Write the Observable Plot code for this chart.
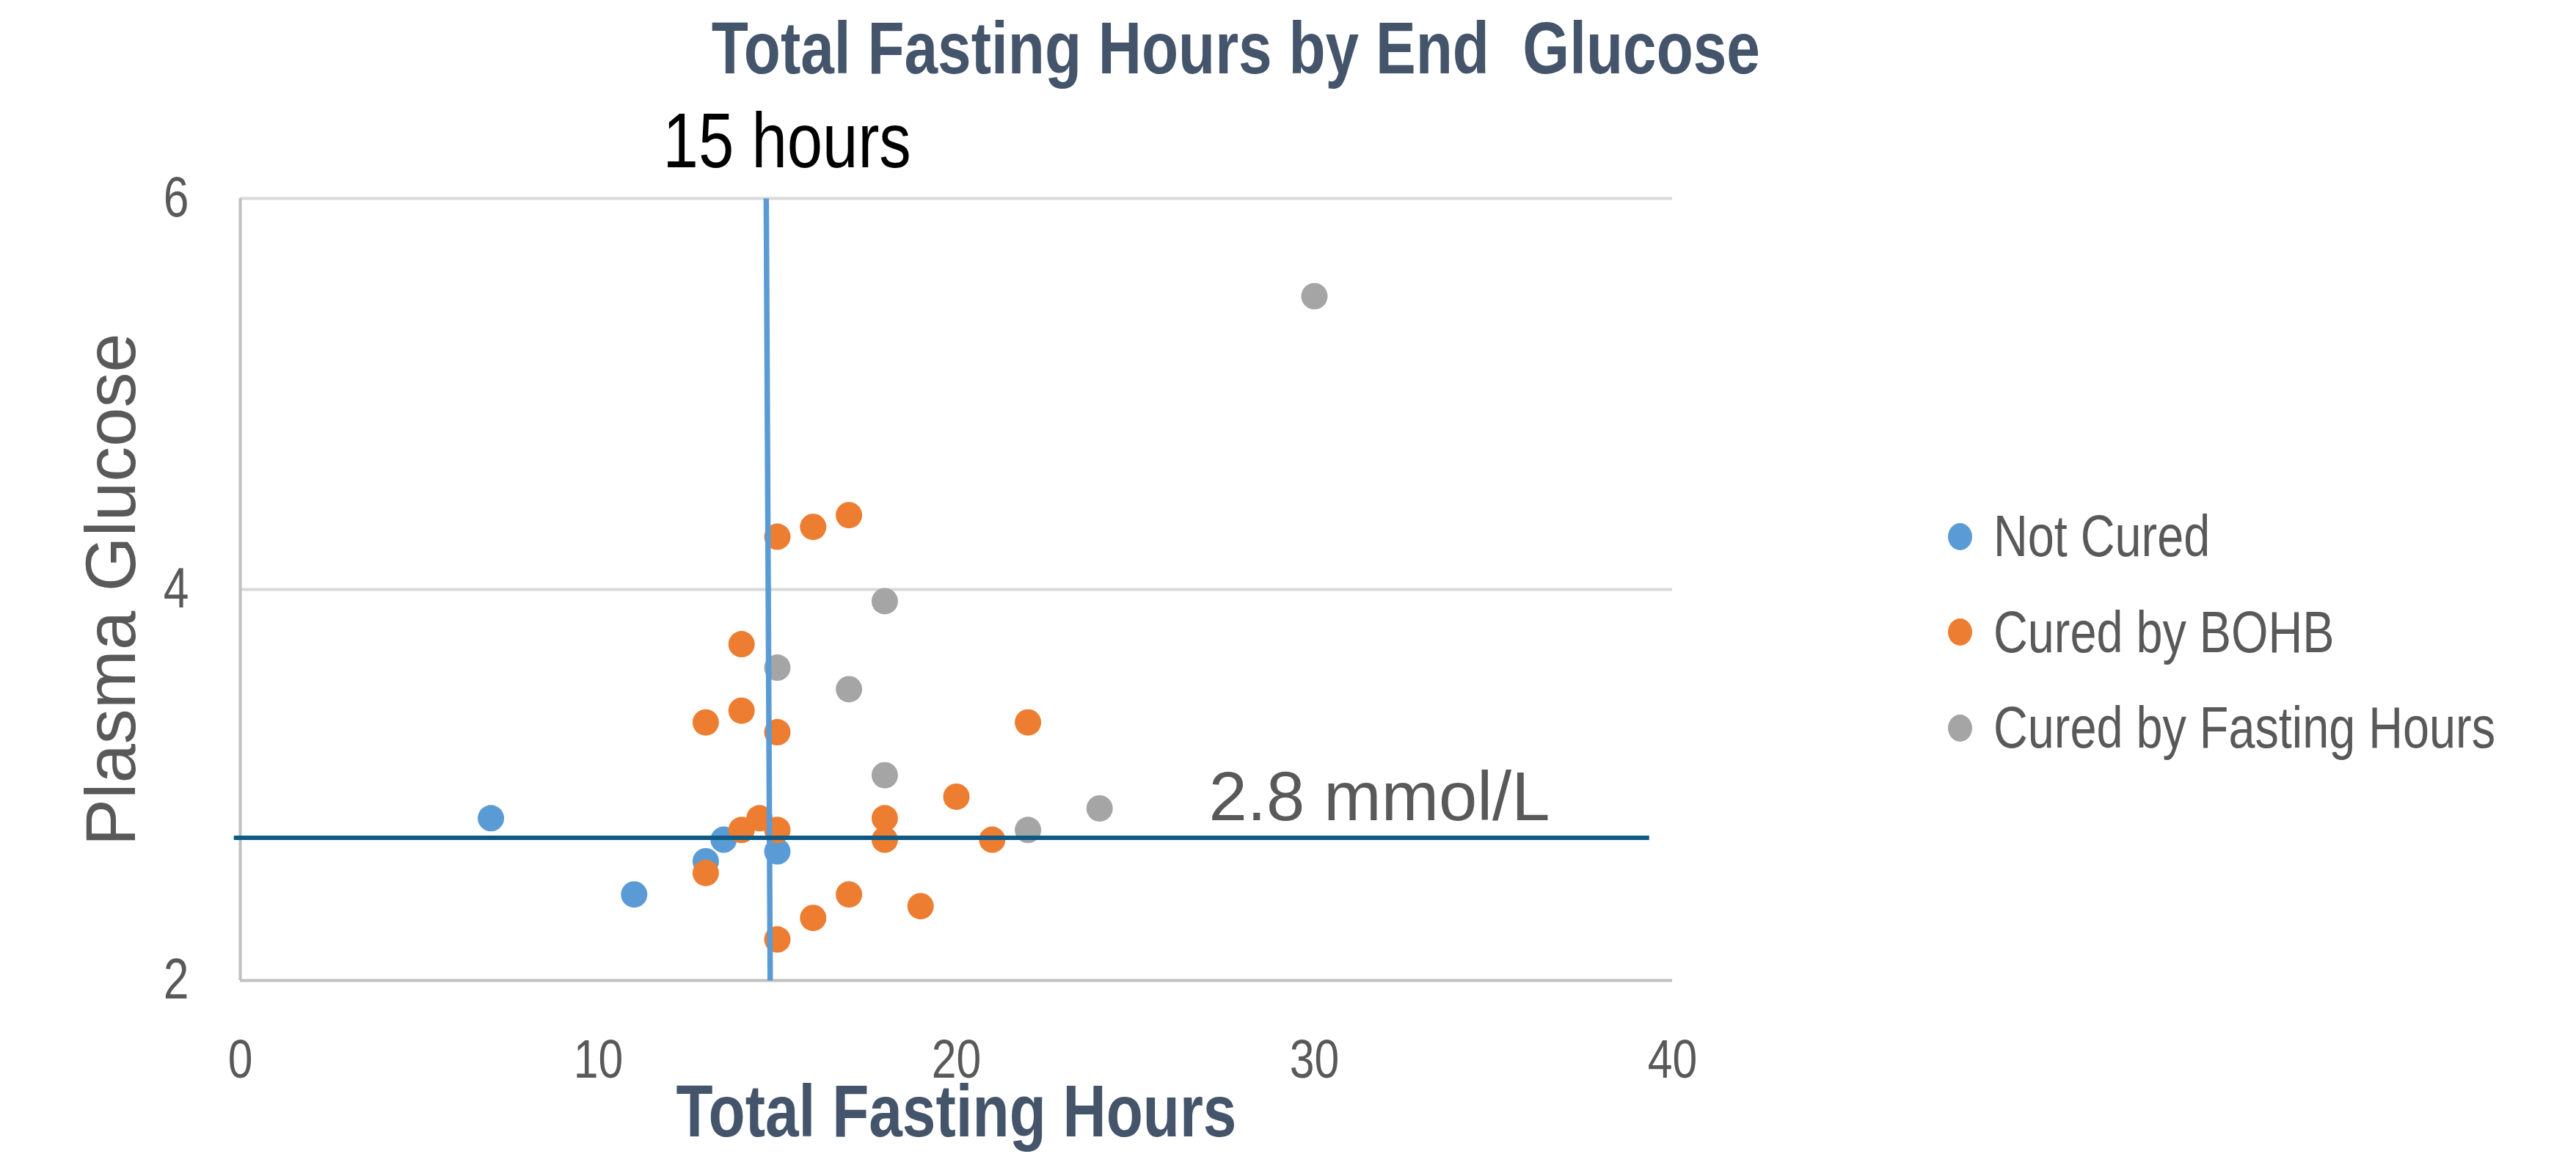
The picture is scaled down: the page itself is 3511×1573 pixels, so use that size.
<!DOCTYPE html>
<html>
<head>
<meta charset="utf-8">
<script src="https://cdn.jsdelivr.net/npm/d3@7"></script>
<script src="https://cdn.jsdelivr.net/npm/@observablehq/plot@0.6"></script>
<style>
  html, body { margin: 0; padding: 0; background: #ffffff; }
  #chart { position: relative; width: 3511px; height: 1573px; overflow: hidden; background: #ffffff; }
  #title {
    position: absolute; left: 0; width: 3368px; top: 15px; text-align: center;
    font-family: "Liberation Sans", Arial, sans-serif;
    font-weight: bold; font-size: 100px; line-height: 100px; color: #44546a; white-space: pre;
  }
  #title span { display: inline-block; transform: scaleX(0.82); transform-origin: center center; }
  #legend { position: absolute; left: 2655px; top: 666px; }
  .item { display: flex; align-items: center; height: 130.5px; }
  .swatch { width: 33px; height: 37px; border-radius: 50%; margin-right: 29px; flex: none; }
  .lbl { display: inline-block; font-family: "Liberation Sans", Arial, sans-serif; font-size: 79px; color: #595959; white-space: nowrap; transform: scaleX(0.82); transform-origin: left center; }
  #plot { position: absolute; left: 0; top: 0; }
</style>
</head>
<body>
<div id="chart">
  <div id="plot"></div>
  <div id="title"><span></span></div>
  <div id="legend"></div>
</div>
<script>
// ---- data ----
const chartTitle = "Total Fasting Hours by End  Glucose";
const xLabel = "Total Fasting Hours";
const yLabel = "Plasma Glucose";
const seriesNames = ["Not Cured", "Cured by BOHB", "Cured by Fasting Hours"];
const seriesColors = ["#5b9bd5", "#ed7d31", "#a5a5a5"];

const notCuredHours   = [7, 11, 13, 13.5, 15];
const notCuredGlucose = [2.83, 2.44, 2.61, 2.72, 2.66];

const bohbHours   = [13, 13, 14, 14, 14, 14.5, 15, 15, 15, 15, 16, 16, 17, 17, 18, 18, 19, 20, 21, 22];
const bohbGlucose = [3.32, 2.55, 3.72, 3.38, 2.77, 2.83, 4.27, 3.27, 2.77, 2.21, 4.32, 2.32, 4.38, 2.44, 2.83, 2.72, 2.38, 2.94, 2.72, 3.32];

const fastHours   = [15, 17, 18, 18, 22, 24, 30];
const fastGlucose = [3.6, 3.49, 3.94, 3.05, 2.77, 2.88, 5.5];

const xTicks = [0, 10, 20, 30, 40];
const yTicks = [2, 4, 6];

// reference lines (as drawn in the original)
const hoursLine = {x1: 14.69, y1: 6, x2: 14.8, y2: 2};
const glucoseLine = {x1: -0.18, y1: 2.73, x2: 39.35, y2: 2.73};
const hoursNote = {x: 15.27, y: 6.16, text: "15 hours"};
const glucoseNote = {x: 27.05, y: 2.82, text: "2.8 mmol/L"};

// ---- build table ----
const points = [];
[[notCuredHours, notCuredGlucose], [bohbHours, bohbGlucose], [fastHours, fastGlucose]].forEach(([hs, gs], i) => {
  hs.forEach((h, j) => points.push({series: seriesNames[i], hours: h, glucose: gs[j]}));
});

const sans = "'Liberation Sans', Arial, sans-serif";

const chart = Plot.plot({
  width: 3511,
  height: 1573,
  marginLeft: 327,
  marginRight: 1232,
  marginTop: 270,
  marginBottom: 237,
  style: {fontFamily: sans, color: "#595959", background: "transparent", overflow: "visible"},
  x: {domain: [0, 40]},
  y: {domain: [2, 6]},
  color: {domain: seriesNames, range: seriesColors},
  marks: [
    Plot.gridY(yTicks.filter(d => d > 2), {stroke: "#d9d9d9", strokeOpacity: 1, strokeWidth: 4}),
    Plot.ruleY([yTicks[0]], {stroke: "#bfbfbf", strokeWidth: 4}),
    Plot.ruleX([xTicks[0]], {stroke: "#bfbfbf", strokeWidth: 4}),
    Plot.axisX(xTicks, {tickSize: 0, tickPadding: 80, fontSize: 74, label: null, tickFormat: d => String(d)}),
    Plot.axisY(yTicks, {tickSize: 0, tickPadding: 70, fontSize: 78, label: null, tickFormat: d => String(d)}),
    Plot.dot(points, {x: "hours", y: "glucose", fill: "series", r: 18}),
    Plot.link([hoursLine], {x1: "x1", y1: "y1", x2: "x2", y2: "y2", stroke: "#5b9bd5", strokeWidth: 7.5}),
    Plot.link([glucoseLine], {x1: "x1", y1: "y1", x2: "x2", y2: "y2", stroke: "#0e5a86", strokeWidth: 6}),
    Plot.text([hoursNote], {x: "x", y: "y", text: "text", textAnchor: "middle", lineAnchor: "bottom", fontSize: 106, fill: "#000000"}),
    Plot.text([glucoseNote], {x: "x", y: "y", text: "text", textAnchor: "start", lineAnchor: "bottom", fontSize: 94, fill: "#595959"}),
    Plot.text([xLabel], {frameAnchor: "bottom", lineAnchor: "bottom", dy: 212, fontSize: 100, fontWeight: "bold", fill: "#44546a"}),
    Plot.text([yLabel], {frameAnchor: "left", rotate: -90, textAnchor: "middle", lineAnchor: "bottom", dx: -144, fontSize: 96, fill: "#595959"})
  ]
});
document.getElementById("plot").appendChild(chart);

// condense the Calibri-like texts horizontally
function condense(nodes, k) {
  nodes.forEach(t => {
    const L = t.getComputedTextLength();
    if (L > 0) {
      t.setAttribute("textLength", (L * k).toFixed(1));
      t.setAttribute("lengthAdjust", "spacingAndGlyphs");
    }
  });
}
condense(chart.querySelectorAll('g[aria-label="x-axis tick label"] text'), 0.82);
condense(chart.querySelectorAll('g[aria-label="y-axis tick label"] text'), 0.8);
const narrowTexts = new Set([hoursNote.text, xLabel]);
condense(Array.from(chart.querySelectorAll("text")).filter(t => narrowTexts.has(t.textContent)), 0.82);

document.querySelector("#title span").textContent = chartTitle;

const legend = document.getElementById("legend");
seriesNames.forEach((name, i) => {
  const item = document.createElement("div");
  item.className = "item";
  const sw = document.createElement("div");
  sw.className = "swatch";
  sw.style.background = seriesColors[i];
  const lb = document.createElement("span");
  lb.className = "lbl";
  lb.textContent = name;
  item.appendChild(sw);
  item.appendChild(lb);
  legend.appendChild(item);
});
</script>
</body>
</html>
